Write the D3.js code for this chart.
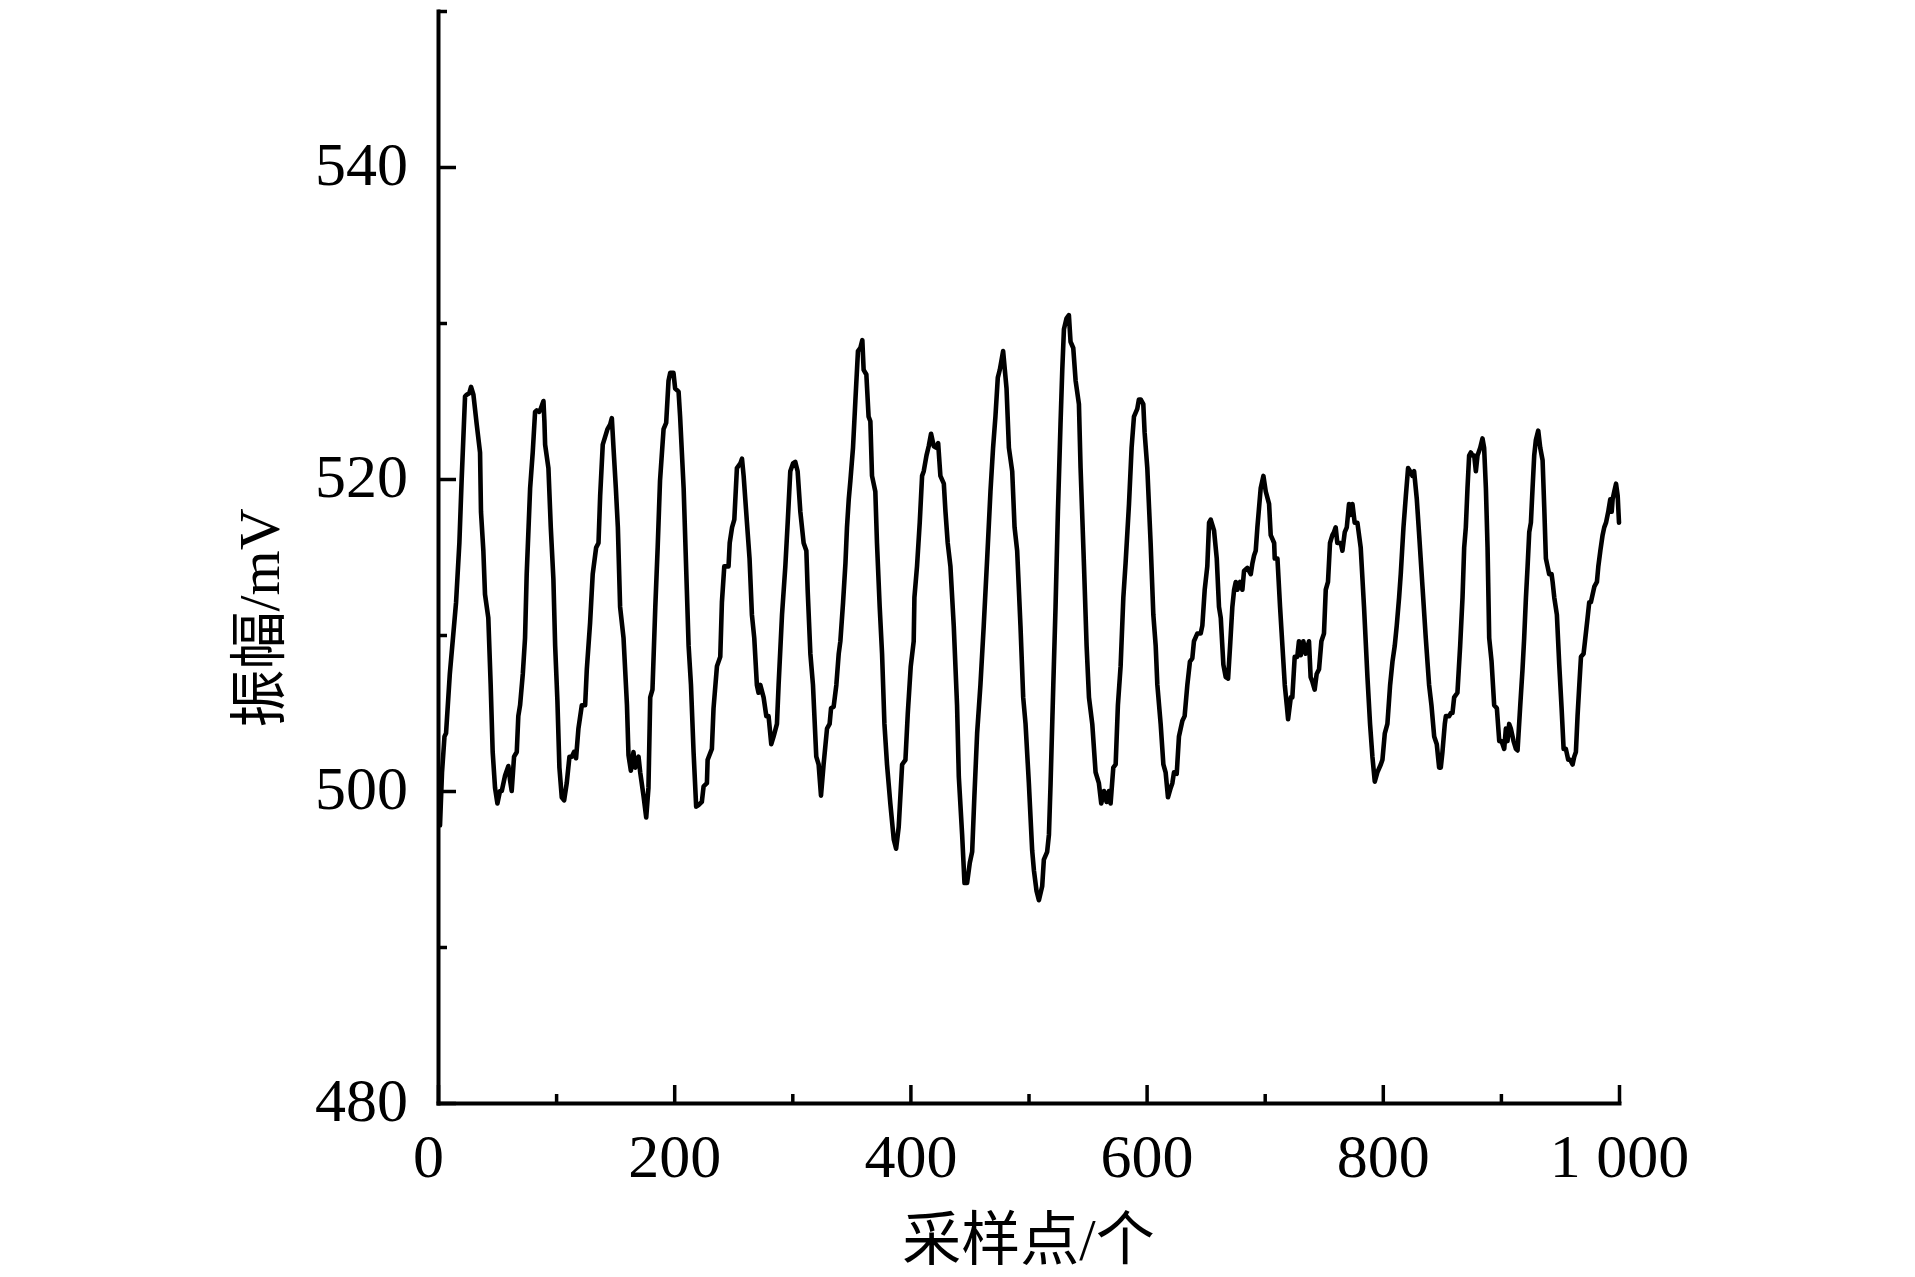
<!DOCTYPE html>
<html><head><meta charset="utf-8">
<script src="https://cdn.jsdelivr.net/npm/d3@7/dist/d3.min.js"></script>
<style>body{margin:0;background:#fff}svg{display:block}</style>
</head><body><svg id="c" width="1915" height="1277"></svg>
<script>
const sampleIndex=[1.7,3.4,5.5,6.8,10,13,15.3,18.1,20,22.9,24.3,26.5,28,30,32.8,35.6,36.4,38.4,39.8,42.6,44.6,46.3,48.3,50.3,52.5,54,56.8,59.6,61,62.4,64.4,66.7,68,69.5,71.8,73.7,75.1,78,80.2,82.2,83.6,85.6,87,89.3,90.1,90.7,93.5,95.5,97.7,99.2,101.1,102.8,104.8,106.8,109,111.3,113.3,115.2,116.9,118.9,121.8,124.6,126,128.8,131,133.9,135.9,137.3,139.5,141.5,143.5,145.8,147.2,148.6,150.6,152.3,154.2,157.1,160,161.3,163.3,165.5,167,169.8,171.2,174,176.3,178.2,179.7,181.6,184,186,188,191,193.2,195.2,196.6,199.4,200.8,203.7,205,208,210.7,212.2,214.2,216.4,218.6,220.6,223.4,224.9,227.7,228.3,231.9,
233.3,236.2,239,240.4,242.4,246,247,249,250.9,253.1,256,257.4,258.8,261.6,263.8,265.8,267.8,270,271.4,272.9,275.7,278,279.9,282.2,284.2,287,288.4,291.3,294.1,296.1,298.3,300.6,302.5,304.5,306.8,309.6,311.9,313,315.3,317.5,320.3,322.3,324.3,326.5,329.4,331.6,332.8,335,337.3,339.3,340.7,343,345,346.3,347.8,349.2,351.4,353.4,355.6,357.6,359.3,360.4,362.7,364.6,366.1,367.5,370.3,371.7,374,376,378,380.2,383,385.9,387.9,390.1,393,395.8,397.8,400.3,402.8,403.4,405.6,407.9,409.9,411.3,413.6,415.5,417.5,419.8,422,423.5,425.4,428.3,429.7,431.6,433.9,436.7,439.5,441,443.8,445.8,448,450.3,452.3,454.2,456.5,459.3,462.1,465,467.8,470,472,474,475.7,478.5,
481.4,483.4,486.2,488.2,490.4,493.2,495.5,497.5,500.3,503.1,504.6,506.8,508.8,511.6,513,515.8,517.3,518.7,521,522.9,524.9,527.1,528.6,530,532.2,534.2,535.6,537.9,539.9,542.7,544.1,547,549.2,551.2,554,556.8,559.6,561.6,563.9,566.1,568.1,569.5,571.8,573.8,575.7,578,580.3,582.2,585.1,587.3,589.3,592.1,593.5,595,597.2,598.3,600.6,603.4,605.7,607.7,609.1,611.9,614.2,616.1,618.1,620.4,621.8,623.2,625.5,627.4,630.3,632.2,634.5,636.7,638.7,640.1,643,645.8,647.2,649.2,651.4,652.9,654.3,657.1,659.4,661.3,662.8,665,667,669,670.7,672.6,674.1,675.5,676.9,679.1,681.1,682.5,685.3,688.2,689.6,691,692.4,693.8,696.6,698.9,700.9,703.7,705.1,708,708.5,710.8,713,715,717,718.7,719.8,722.1,
723.4,725.4,727.6,729,730.5,732.7,734.7,737.5,738.9,740.4,742.3,744,746,748,750.2,751.7,753.6,755.3,757.3,758.7,760.1,761.5,764.4,765.8,767.8,769.5,771.4,772.8,774.3,776.2,778.5,781.3,784.1,787,789.2,791.2,793.2,795.4,798.3,799.7,801.7,803.9,806.2,808.2,810.1,811.8,813.8,815.2,817.5,819.5,821.4,823.1,825.1,826.5,828.8,830.8,833.6,836.4,839.2,841.2,843.5,845.7,847.7,849.1,850.5,852.5,853.4,856.2,857.6,859,860.4,863.2,865.5,867.5,868.9,870.3,871.7,873.1,874.5,876,877.4,878.8,880.2,882.5,884.4,885.8,887.3,888.7,890.1,892.1,894.3,896.6,898.6,900.5,902.8,904.2,905.6,907,908.4,910.7,912.7,914.1,916.4,918.3,919.7,921.2,922.6,924,925.4,926.8,928.2,929.6,931.6,933.3,935.3,936.7,938.1,939.5,940.9,942.9,943.8,945.2,947.4,949.4,951.4,953.1,955,957,958.7,960.7,962.1,963.5,964.9,966.4,967.8,970,971.2,973.4,974.8,976.2,979.1,981.3,982.5,984.2,986.1,987.5,989,990.9,992.6,993.8,994.6,996,997.5,998.9,1000];
const amplitude=[497.8,501.2,503.5,503.7,507.5,510.1,512.1,515.9,519.9,525.3,525.4,525.5,525.9,525.4,523.5,521.7,517.9,515.4,512.6,511.1,506.8,502.5,500.2,499.2,500,500,501,501.6,500.7,500,502.2,502.5,504.8,505.5,507.5,509.8,513.9,519.4,521.7,524.3,524.4,524.3,524.5,525,523.7,522.2,520.7,516.9,513.6,509.3,505.8,501.5,499.6,499.4,500.5,502.2,502.2,502.5,502.1,504,505.5,505.5,507.8,510.8,513.9,515.6,515.9,518.9,522.2,522.7,523.2,523.5,523.9,522,519.4,516.9,511.8,509.8,505.5,502.3,501.3,502.5,501.5,502.2,501.2,499.7,498.3,500.2,506,506.5,511.8,515.6,519.9,523.2,523.6,526.3,526.8,526.8,525.8,525.6,524,519.4,512.9,509.3,506.8,502.5,499,499.1,499.3,500.3,500.5,502,502.7,
505.3,508,508.6,512.1,514.4,514.4,515.9,516.9,517.4,520.7,521,521.3,520.2,517.2,514.9,511.3,509.8,506.8,506.3,506.8,506,504.8,504.8,503,503.5,504.3,506.8,511.3,514.4,517.2,520.5,521,521.1,520.5,517.9,515.9,515.4,512.9,508.8,506.8,502.2,501.7,499.7,501.7,504,504.3,505.3,505.4,506.8,508.8,509.6,512.1,514.6,516.9,518.7,519.9,522,525,528.2,528.4,528.9,527,526.7,524,523.7,520.2,519.2,515.9,511.8,508.8,504.3,501.7,499.2,496.9,496.3,497.7,501.7,502,505,508,509.6,512.4,514.4,517.2,520.2,520.5,521.5,522.1,522.9,522.1,522,522.3,520.2,519.7,517.9,515.9,514.4,510.6,505.5,500.9,497.2,494.1,494.1,495.4,496.1,499.7,503.7,506.8,510.6,514.9,519.2,522,524,526.5,527,528.2,
525.8,522,520.5,516.9,515.4,510.6,506,504.3,500.5,496.2,494.9,493.6,493,493.9,495.6,496.1,497.2,500.5,506.8,511.8,517.9,523.5,527,529.6,530.3,530.5,528.8,528.4,526.3,524.8,520.7,514.4,509.3,506,504.3,501.2,500.5,499.2,500,499.3,500,499.2,501.5,501.7,505.5,508,512.4,514.6,518.4,522,524,524.5,525.1,525.1,524.8,523,520.7,515.9,511.3,509.3,506.8,504.3,501.7,501.2,499.6,500.2,500.5,501.2,501.1,503.5,504.5,504.8,506.8,508.3,508.5,509.6,510.1,510.1,510.6,512.9,514.4,517.2,517.4,516.7,514.9,511.8,511.1,508.1,507.3,507.2,509.3,511.8,512.9,513.4,512.9,513.4,512.9,514.1,514.3,513.9,514.6,515.1,515.4,516.9,519.4,520.2,519.2,518.4,516.4,515.9,514.9,514.9,511.8,509.3,506.8,505.5,504.6,506,
506,508.6,508.6,509.6,508.7,509.6,508.8,509.6,507.3,507,506.5,507.5,507.8,509.6,510.1,512.9,513.4,515.9,516.4,516.6,516.9,515.9,515.9,515.4,516.6,516.9,518.4,517.7,518.4,517.2,517.2,515.6,511.8,507.3,504.3,502.2,500.6,501.2,501.7,502,503.7,504.3,506.8,508.3,509.3,510.6,512.4,513.9,516.9,518.9,520.7,520.5,520.2,520.5,518.7,516.4,513.1,509.8,506.8,505.5,503.5,503,501.5,501.5,502.5,504.3,504.8,504.8,505,505,506,506.3,509.3,512.4,515.6,516.9,519.4,521.5,521.7,521.5,521.5,520.5,521.5,522,522.6,522,519.4,515.6,509.8,508.3,505.5,505.3,503.2,503.2,502.7,504,503.2,504.3,504,503.2,502.7,502.6,505.5,507.8,509.8,512.4,514.4,516.6,517.2,519.4,521.5,522.5,523.1,522,521.2,518.2,514.9,514.4,513.9,513.9,513.4,512.4,511.3,508.1,505.3,502.7,502.7,502,502,501.7,502.2,502.5,504.8,506.8,508.6,508.8,509.6,511.1,512.1,512.1,513.1,513.4,514.4,515.4,516.4,516.9,517.2,517.9,518.7,517.9,518.7,519.2,519.7,518.9,517.2];

const xMajorTicks=[0,200,400,600,800,1000];
const xMinorTicks=[100,300,500,700,900];
const yMajorTicks=[480,500,520,540];
const yMinorTicks=[490,510,530,550];
const xTickLabels=["0","200","400","600","800","1 000"];
const yTickLabels=["480","500","520","540"];
const xTitleParts=[["采样点","cjk"],["/","serif"],["个","cjk"]];
const yTitleParts=[["振幅","cjk"],["/mV","serif"]];

const W=1915,H=1277;
const margin={left:438,top:11,right:296,bottom:174};
const SERIF='"Liberation Serif","Times New Roman",serif';
const CJK='"Noto Sans CJK SC","Noto Sans CJK JP",sans-serif';
const svg=d3.select("#c");
const x=d3.scaleLinear().domain([0,1000]).range([margin.left,W-margin.right]);
const y=d3.scaleLinear().domain([480,550]).range([H-margin.bottom,margin.top]);

const data=sampleIndex.map((s,i)=>[s,amplitude[i]]);

// x axis
const gx=svg.append("g").attr("transform",`translate(0,${H-margin.bottom})`);
gx.call(d3.axisBottom(x).tickValues(xMajorTicks).tickSize(-18).tickSizeOuter(0)
  .tickFormat((d,i)=>xTickLabels[i]));
gx.append("g").call(d3.axisBottom(x).tickValues(xMinorTicks).tickSize(-9).tickSizeOuter(0).tickFormat(""))
  .select(".domain").remove();
gx.selectAll("text").attr("y",74).attr("dy",null).attr("dx",(d,i)=>i===0?-10:0)
  .style("font-family",SERIF).style("font-size","62px").attr("fill","#000");

// y axis
const gy=svg.append("g").attr("transform",`translate(${margin.left},0)`);
gy.call(d3.axisLeft(y).tickValues(yMajorTicks).tickSize(-18).tickSizeOuter(0)
  .tickFormat((d,i)=>yTickLabels[i]));
gy.append("g").call(d3.axisLeft(y).tickValues(yMinorTicks).tickSize(-9).tickSizeOuter(0).tickFormat(""))
  .select(".domain").remove();
gy.selectAll("text").attr("x",-30).attr("dy",17)
  .style("font-family",SERIF).style("font-size","62px").attr("fill","#000");

svg.selectAll(".domain").attr("stroke","#000").attr("stroke-width",4).attr("stroke-linecap","square");
svg.selectAll(".tick line").attr("stroke","#000").attr("stroke-width",3.5);

// line
svg.append("path").datum(data)
  .attr("fill","none").attr("stroke","#000").attr("stroke-width",4.6)
  .attr("stroke-linejoin","round").attr("stroke-linecap","round")
  .attr("d",d3.line().x(d=>x(d[0])).y(d=>y(d[1])));

// titles
const xt=svg.append("text").attr("x",(x.range()[0]+x.range()[1])/2).attr("y",1260)
  .attr("text-anchor","middle").style("font-size","59px").attr("fill","#000");
xTitleParts.forEach(p=>xt.append("tspan").text(p[0]).style("font-family",p[1]==="cjk"?CJK:SERIF));

const yt=svg.append("text").attr("transform","translate(279,618) rotate(-90)")
  .attr("text-anchor","middle").style("font-size","58px").attr("fill","#000");
yTitleParts.forEach(p=>yt.append("tspan").text(p[0]).style("font-family",p[1]==="cjk"?CJK:SERIF));
</script>
</body></html>
